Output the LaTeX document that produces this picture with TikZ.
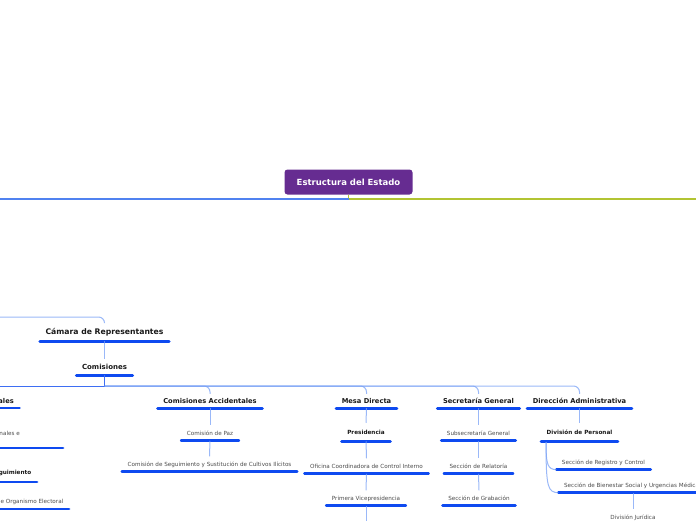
\documentclass[tikz,border=0pt]{standalone}
\usepackage{fontspec}
\setmainfont{DejaVu Sans}
\usetikzlibrary{positioning}
\definecolor{titlepurple}{RGB}{102,44,145}
\definecolor{barblue}{RGB}{14,74,240}
\definecolor{linkblue}{RGB}{120,160,245}
\definecolor{rootblue}{RGB}{80,130,240}
\definecolor{rootgreen}{RGB}{178,196,50}
\definecolor{headblack}{RGB}{25,25,25}
\definecolor{leafgray}{RGB}{75,75,75}

\begin{document}
\begin{tikzpicture}[x=1pt,y=-1pt,
    rootbox/.style={rectangle,rounded corners=3pt,fill=titlepurple,text=white,font=\bfseries\fontsize{8.5}{9}\selectfont,minimum width=128pt,minimum height=25pt,inner sep=0pt},
    barline/.style={draw=barblue,line width=2.8pt,line cap=round},
    barred/.style={inner xsep=5.5pt,text depth=0pt,
        append after command={(\tikzlastnode.south west) edge[barline] (\tikzlastnode.south east)}},
    mainhead/.style={barred,text=headblack,text height=5.5pt,inner ysep=6.2pt,font=\bfseries\fontsize{7.7}{9}\selectfont},
    branch/.style={barred,text=headblack,text height=5pt,inner ysep=5.5pt,font=\bfseries\fontsize{7}{8}\selectfont},
    head/.style={barred,text=headblack,text height=4.8pt,inner ysep=4.6pt,font=\bfseries\fontsize{6.7}{8}\selectfont},
    subhead/.style={barred,text=headblack,text height=4.1pt,inner ysep=7pt,font=\bfseries\fontsize{5.7}{7}\selectfont},
    leaf/.style={barred,text=leafgray,text height=4.1pt,inner ysep=5.5pt,font=\fontsize{5.65}{7}\selectfont},
    frag/.style={text=leafgray,inner sep=0pt,font=\fontsize{5.65}{7}\selectfont},
    link/.style={draw=linkblue,line width=1pt,opacity=0.75},
    hub/.style={draw=barblue!80,line width=1pt}]
\useasboundingbox (0,0) rectangle (696,520);
% root
\node[rootbox] (root) at (348.5,182) {Estructura del Estado};
\coordinate (rootj) at (348.5,199);
\coordinate (rootl) at (-10,199);
\coordinate (rootr) at (706,199);
\draw[rootgreen,line width=1.8pt] (root.south) -- (rootj) -- (rootr);
\draw[rootblue,line width=1.4pt] (rootj) -- (rootl);
% camara
\node[mainhead] (cam) at (104.5,332) {Cámara de Representantes};
\coordinate (camin) at (-10,317);
\draw[link,rounded corners=6pt] (camin) -| (cam.north);
\node[branch] (com) at (104.5,367) {Comisiones};
\draw[link] (cam.south) -- (com.north);
\coordinate (comj) at (104.5,386);
\coordinate (comw) at (-10,386);
\draw[hub] (com.south) -- (comj);
\draw[hub] (comj) -- (comw);
% heads
\node[head] (acc) at (210,401) {Comisiones Accidentales};
\node[head] (mesa) at (366.5,401) {Mesa Directa};
\node[head] (sec) at (478.5,401) {Secretaría General};
\node[head] (dir) at (579.5,401) {Dirección Administrativa};
\foreach \n in {acc,mesa,sec,dir}
    \draw[link,rounded corners=6pt] (comj) -| (\n.north);
% comisiones accidentales
\node[leaf] (paz) at (210,433) {Comisión de Paz};
\node[leaf] (segu) at (209.5,464) {Comisión de Seguimiento y Sustitución de Cultivos Ilícitos};
\draw[link] (acc.south) -- (paz.north);
\draw[link] (paz.south) -- (segu.north);
% mesa directa
\node[subhead] (pres) at (366,432) {Presidencia};
\node[leaf] (ofi) at (366.5,466) {Oficina Coordinadora de Control Interno};
\node[leaf] (prim) at (366,498) {Primera Vicepresidencia};
\coordinate (mesaend) at (366,530);
\draw[link] (mesa.south) -- (pres.north);
\draw[link] (pres.south) -- (ofi.north);
\draw[link] (ofi.south) -- (prim.north);
\draw[link] (prim.south) -- (mesaend);
% secretaria general
\node[leaf] (subs) at (478.5,433) {Subsecretaría General};
\node[leaf] (rel) at (478.5,466) {Sección de Relatoría};
\node[leaf] (grab) at (479,498) {Sección de Grabación};
\draw[link] (sec.south) -- (subs.north);
\draw[link] (subs.south) -- (rel.north);
\draw[link] (rel.south) -- (grab.north);
% direccion administrativa
\node[subhead] (divp) at (579.5,432) {División de Personal};
\node[leaf] (reg) at (603.5,462) {Sección de Registro y Control};
\node[leaf] (bien) at (633,485) {Sección de Bienestar Social y Urgencias Médicas};
\node[leaf] (djur) at (633,517) {División Jurídica};
\coordinate (divpk) at (546,442);
\draw[link] (dir.south) -- (divp.north);
\draw[link] (divpk) .. controls (546,466) and (548,469) .. (reg.south west);
\draw[link] (divpk) .. controls (546,489) and (548,492) .. (bien.south west);
\draw[link] (bien.south) -- (djur.north);
% left column, cut by the page
\node[head,anchor=south east] (lcom) at (19.5,408) {ales};
\node[frag,anchor=east] (lhum) at (20,433) {nales e};
\draw[barline] (-6,448) -- (63,448);
\node[subhead,anchor=south east] (lseg) at (37,482) {guimiento};
\node[leaf,anchor=south east] (lorg) at (69,509) {e Organismo Electoral};
\end{tikzpicture}
\end{document}
